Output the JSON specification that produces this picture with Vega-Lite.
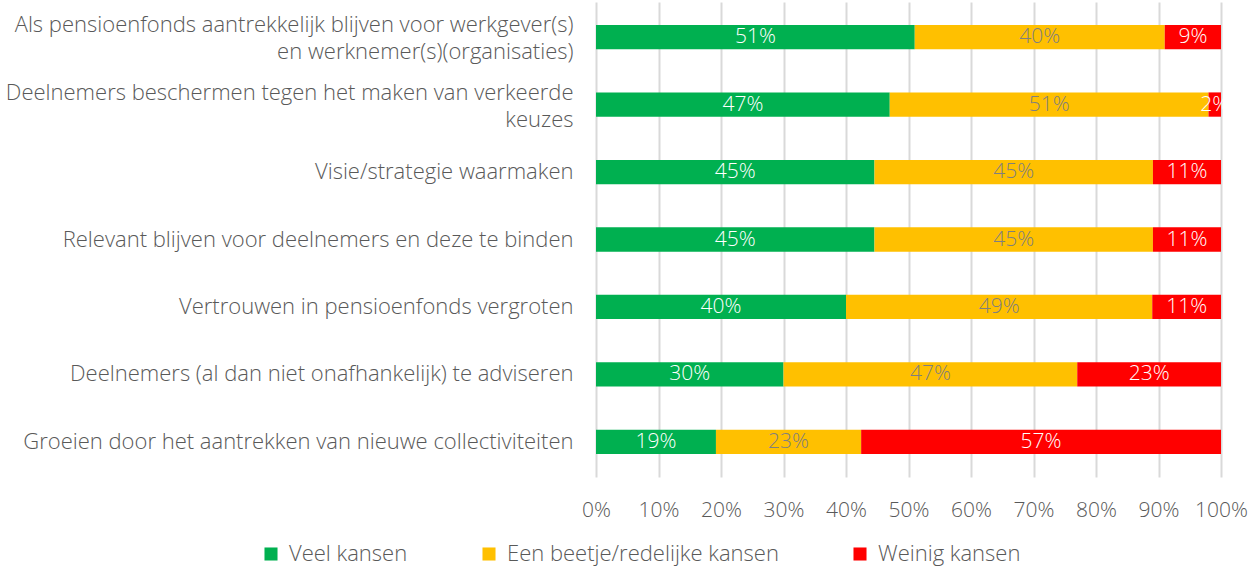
{
  "$schema": "https://vega.github.io/schema/vega-lite/v6.json",
  "autosize": {"type": "none"},
  "padding": {"left": 596, "top": 2, "right": 37, "bottom": 89},
  "width": 625,
  "height": 475,
  "config": {
    "font": "Open Sans",
    "view": {"stroke": null},
    "axis": {"labelFont": "Open Sans", "labelFontWeight": 300, "labelColor": "#595959", "labelFontSize": 20},
    "legend": {"labelFont": "Open Sans", "labelFontWeight": 300}
  },
  "data": {
    "values": [
      {"item": "Als pensioenfonds aantrekkelijk blijven voor werkgever(s)\nen werknemer(s)(organisaties)", "idx": 1, "cat": "Veel kansen", "ord": 1, "value": 51},
      {"item": "Als pensioenfonds aantrekkelijk blijven voor werkgever(s)\nen werknemer(s)(organisaties)", "idx": 1, "cat": "Een beetje/redelijke kansen", "ord": 2, "value": 40},
      {"item": "Als pensioenfonds aantrekkelijk blijven voor werkgever(s)\nen werknemer(s)(organisaties)", "idx": 1, "cat": "Weinig kansen", "ord": 3, "value": 9},
      {"item": "Deelnemers beschermen tegen het maken van verkeerde\nkeuzes", "idx": 2, "cat": "Veel kansen", "ord": 1, "value": 47},
      {"item": "Deelnemers beschermen tegen het maken van verkeerde\nkeuzes", "idx": 2, "cat": "Een beetje/redelijke kansen", "ord": 2, "value": 51},
      {"item": "Deelnemers beschermen tegen het maken van verkeerde\nkeuzes", "idx": 2, "cat": "Weinig kansen", "ord": 3, "value": 2},
      {"item": "Visie/strategie waarmaken", "idx": 3, "cat": "Veel kansen", "ord": 1, "value": 45},
      {"item": "Visie/strategie waarmaken", "idx": 3, "cat": "Een beetje/redelijke kansen", "ord": 2, "value": 45},
      {"item": "Visie/strategie waarmaken", "idx": 3, "cat": "Weinig kansen", "ord": 3, "value": 11},
      {"item": "Relevant blijven voor deelnemers en deze te binden", "idx": 4, "cat": "Veel kansen", "ord": 1, "value": 45},
      {"item": "Relevant blijven voor deelnemers en deze te binden", "idx": 4, "cat": "Een beetje/redelijke kansen", "ord": 2, "value": 45},
      {"item": "Relevant blijven voor deelnemers en deze te binden", "idx": 4, "cat": "Weinig kansen", "ord": 3, "value": 11},
      {"item": "Vertrouwen in pensioenfonds vergroten", "idx": 5, "cat": "Veel kansen", "ord": 1, "value": 40},
      {"item": "Vertrouwen in pensioenfonds vergroten", "idx": 5, "cat": "Een beetje/redelijke kansen", "ord": 2, "value": 49},
      {"item": "Vertrouwen in pensioenfonds vergroten", "idx": 5, "cat": "Weinig kansen", "ord": 3, "value": 11},
      {"item": "Deelnemers (al dan niet onafhankelijk) te adviseren", "idx": 6, "cat": "Veel kansen", "ord": 1, "value": 30},
      {"item": "Deelnemers (al dan niet onafhankelijk) te adviseren", "idx": 6, "cat": "Een beetje/redelijke kansen", "ord": 2, "value": 47},
      {"item": "Deelnemers (al dan niet onafhankelijk) te adviseren", "idx": 6, "cat": "Weinig kansen", "ord": 3, "value": 23},
      {"item": "Groeien door het aantrekken van nieuwe collectiviteiten", "idx": 7, "cat": "Veel kansen", "ord": 1, "value": 19},
      {"item": "Groeien door het aantrekken van nieuwe collectiviteiten", "idx": 7, "cat": "Een beetje/redelijke kansen", "ord": 2, "value": 23},
      {"item": "Groeien door het aantrekken van nieuwe collectiviteiten", "idx": 7, "cat": "Weinig kansen", "ord": 3, "value": 57}
    ]
  },
  "transform": [
    {"stack": "value", "groupby": ["item"], "sort": [{"field": "ord"}], "offset": "normalize", "as": ["v0", "v1"]},
    {"calculate": "(datum.v0 + datum.v1) / 2", "as": "mid"},
    {"calculate": "datum.value + '%'", "as": "lbl"}
  ],
  "encoding": {
    "y": {
      "field": "item", "type": "nominal",
      "sort": {"field": "idx", "op": "min"},
      "scale": {"paddingInner": 0.64, "paddingOuter": 0.34},
      "axis": {
        "title": null, "domain": false, "ticks": false,
        "labelExpr": "split(datum.label, '\\n')",
        "labelFontSize": 22,
        "labelLimit": 700, "labelPadding": 23, "labelLineHeight": 27,
        "labelAlign": "right", "labelBaseline": "middle",
        "labelOffset": {"condition": {"test": "indexof(datum.label, '\\n') >= 0", "value": -12}, "value": 0}
      }
    }
  },
  "layer": [
    {
      "mark": {"type": "bar"},
      "encoding": {
        "x": {
          "field": "v0", "type": "quantitative",
          "scale": {"domain": [0, 1], "nice": false},
          "axis": {
            "title": null, "format": ".0%", "values": [0, 0.1, 0.2, 0.3, 0.4, 0.5, 0.6, 0.7, 0.8, 0.9, 1],
            "domain": false, "ticks": false, "grid": true, "gridColor": "#d9d9d9", "gridWidth": 2,
            "labelPadding": 22, "labelFlush": false, "labelFontSize": 21
          }
        },
        "x2": {"field": "v1"},
        "color": {
          "field": "cat", "type": "nominal",
          "scale": {"domain": ["Veel kansen", "Een beetje/redelijke kansen", "Weinig kansen"], "range": ["#00B050", "#FFC000", "#FF0000"]},
          "legend": {
            "title": null, "orient": "none", "direction": "horizontal",
            "legendX": -336, "legendY": 541,
            "symbolType": "square", "symbolSize": 170, "symbolStrokeWidth": 0,
            "labelFontSize": 22, "labelColor": "#595959", "labelOffset": 7,
            "columnPadding": 70, "labelLimit": 400
          }
        }
      }
    },
    {
      "mark": {"type": "text", "fontSize": 21, "font": "Open Sans", "fontWeight": 300, "baseline": "middle", "align": "center"},
      "encoding": {
        "x": {"field": "mid", "type": "quantitative"},
        "text": {"field": "lbl"},
        "color": {
          "condition": {"test": "datum.ord == 2", "value": "#7f7f7f"},
          "value": "#ffffff"
        }
      }
    }
  ]
}
